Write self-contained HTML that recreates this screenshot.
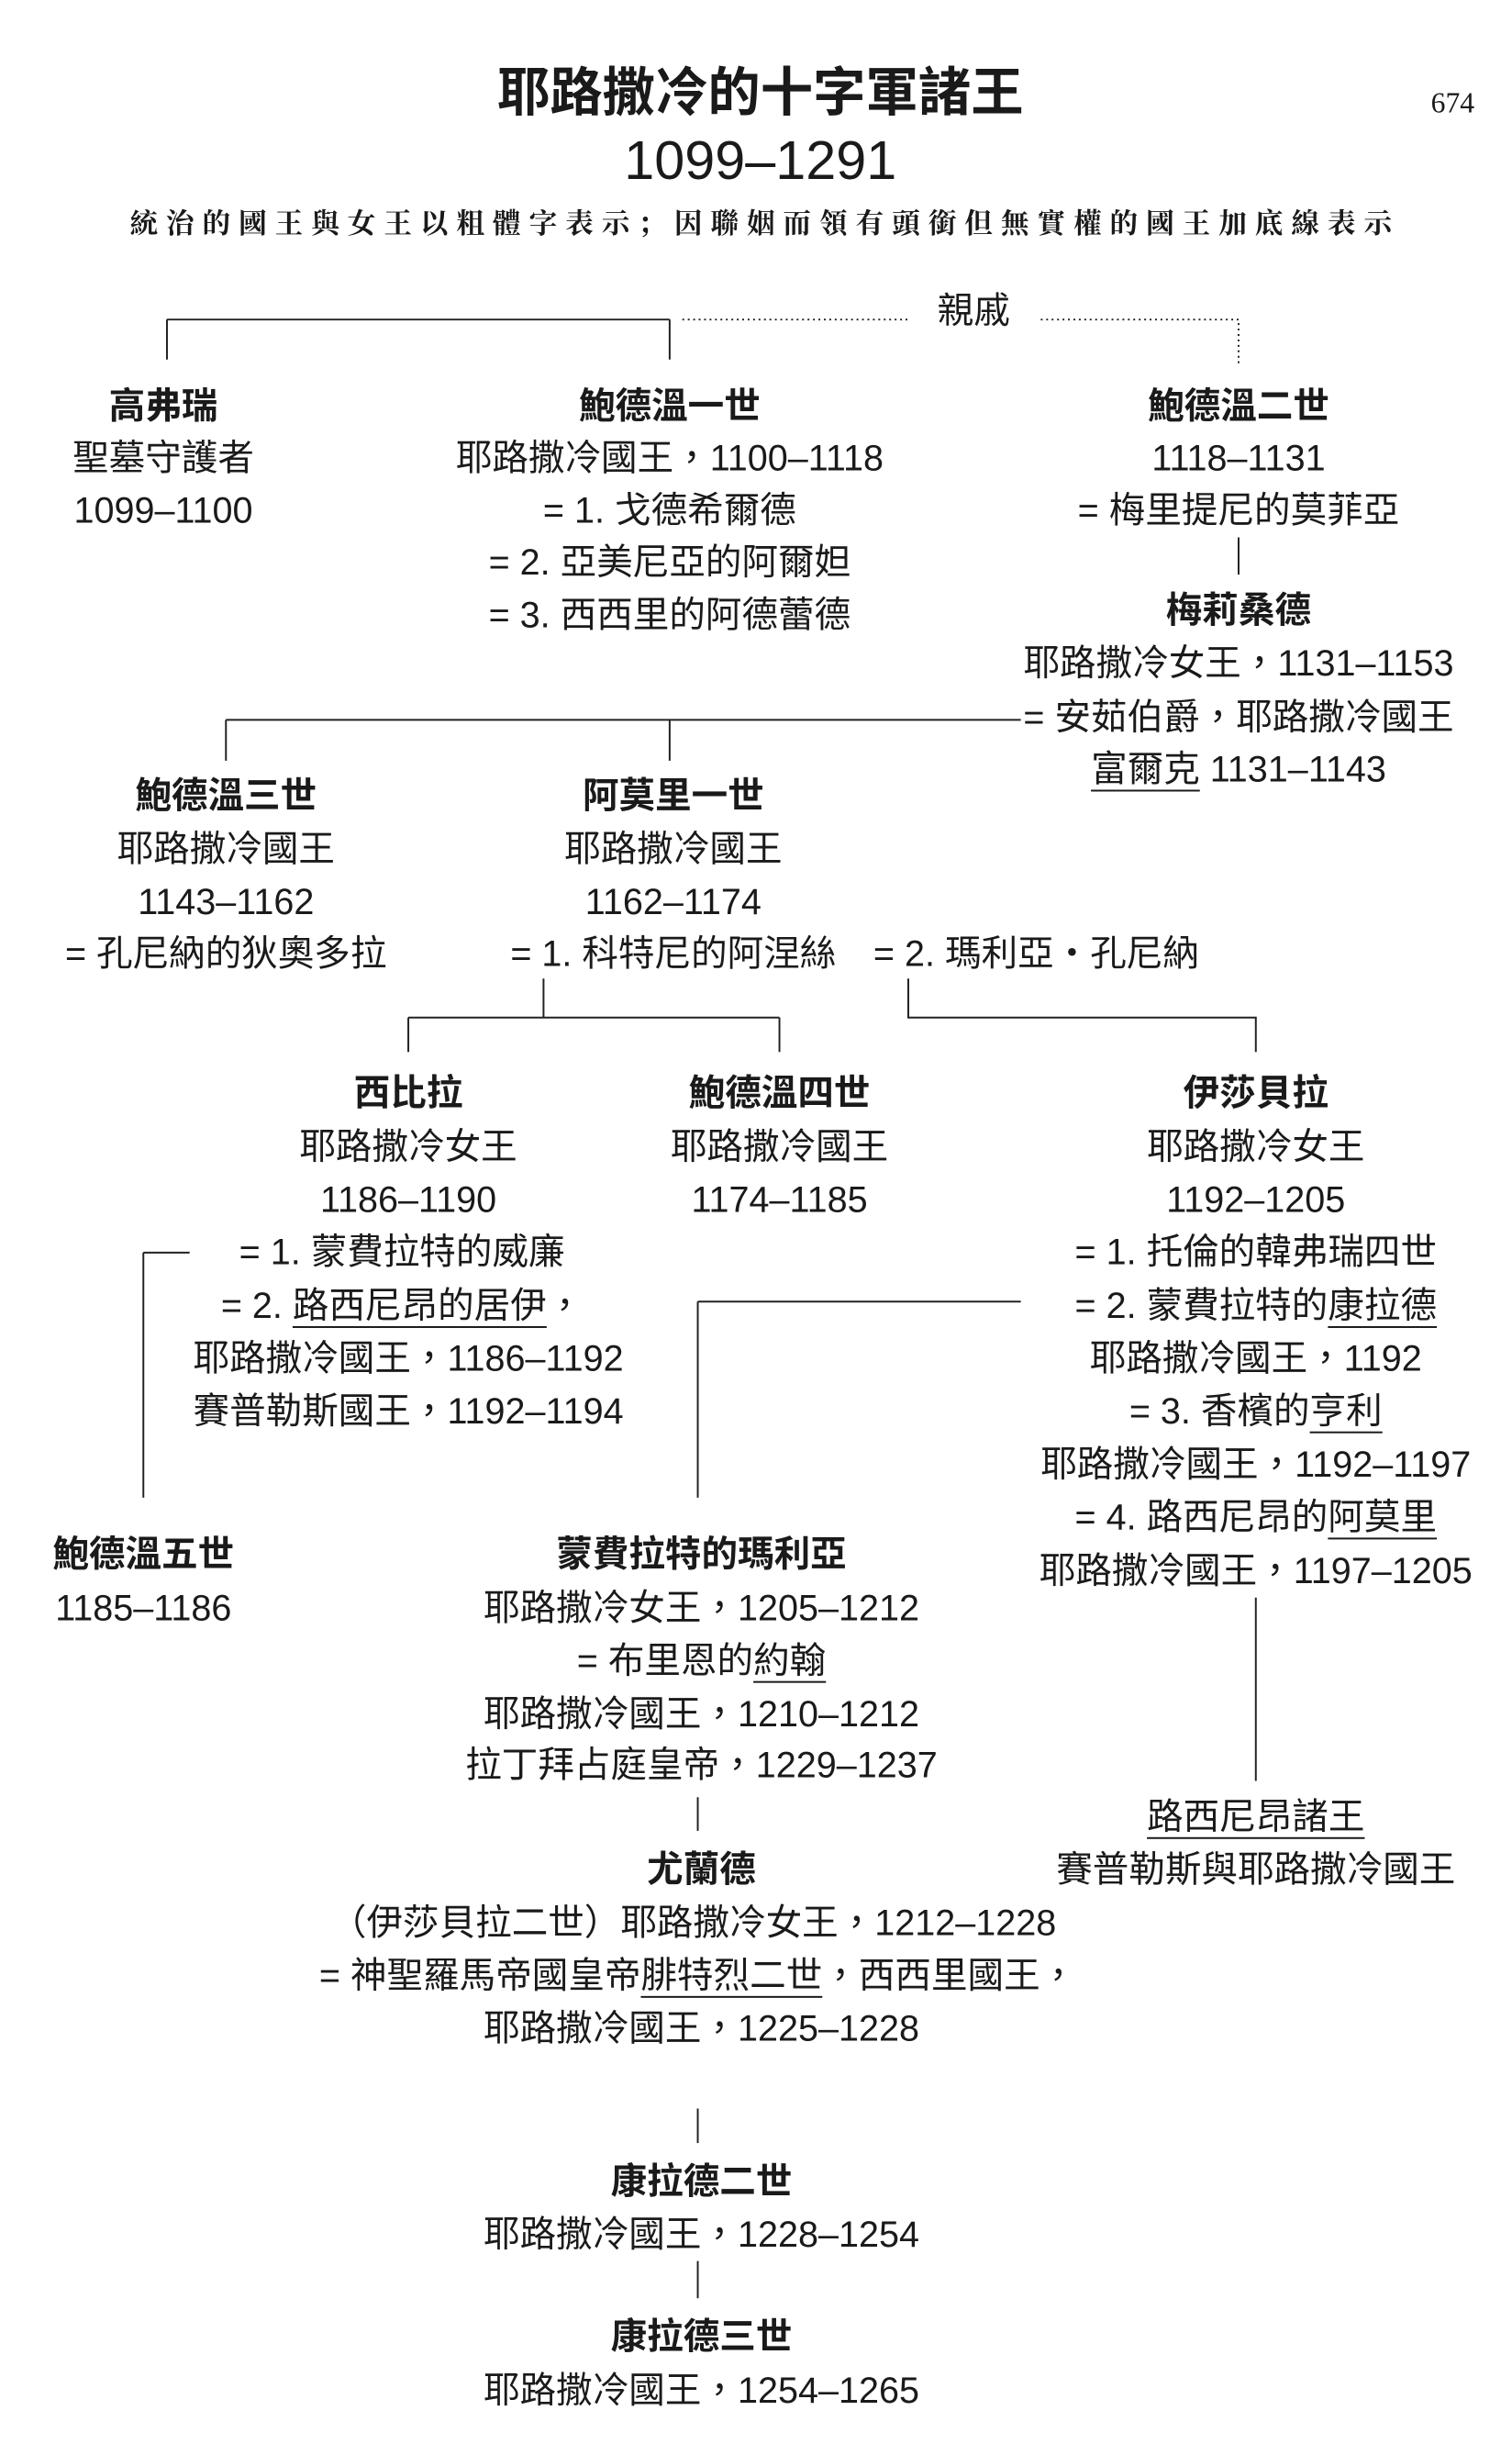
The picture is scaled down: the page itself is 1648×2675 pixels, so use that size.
<!DOCTYPE html>
<html><head><meta charset="utf-8">
<style>
html,body{margin:0;padding:0;background:#fff;}
body{width:1648px;height:2660px;position:relative;overflow:hidden;color:#1a1a1a;font-family:"Liberation Sans","Noto Sans CJK TC",sans-serif;}
#w{position:absolute;left:0;top:5px;width:1680px;height:2700px;transform:scale(0.989);transform-origin:0 0;}
.t{position:absolute;width:1200px;margin-left:-600px;text-align:center;font-size:40px;line-height:58px;height:58px;margin-top:-29px;white-space:nowrap;}
.b{font-weight:bold;}
u{text-decoration:underline;text-decoration-thickness:2px;text-underline-offset:9px;}
svg{position:absolute;left:0;top:0;}
</style></head><body><div id="w">
<svg width="1680" height="2700" viewBox="0 0 1680 2700">
<g stroke="#222" stroke-width="2" fill="none">
<path d="M184 347H738M184 347V391M738 347V391"/>
<path d="M752 347H1004M1147 347H1365V395" stroke-dasharray="2 4"/>
<path d="M1365 587V628"/>
<path d="M249 788H1125M249 788V833M738 788V833"/>
<path d="M599 1073V1116M450 1116H859M450 1116V1154M859 1116V1154"/>
<path d="M1001 1073V1116H1384V1154"/>
<path d="M158 1375H209M158 1375V1645"/>
<path d="M769 1429H1125M769 1429V1645"/>
<path d="M1384 1755V1957"/>
<path d="M769 1975V2012"/>
<path d="M769 2318V2356"/>
<path d="M769 2486V2527"/>
</g>
</svg>

<div class="t b" style="left:838px;top:98px;font-size:58px;height:70px;line-height:70px;margin-top:-35px;">耶路撒冷的十字軍諸王</div>
<div class="t" style="left:838px;top:172px;font-size:60px;height:70px;line-height:70px;margin-top:-35px;">1099–1291</div>
<div class="t" style="left:1601px;top:108px;font-size:32px;font-family:'Liberation Serif',serif;">674</div>
<div class="t" style="left:843px;top:242px;width:1600px;margin-left:-800px;font-size:31px;letter-spacing:9px;font-weight:bold;font-family:'Liberation Serif','Noto Serif CJK SC',serif;">統治的國王與女王以粗體字表示；因聯姻而領有頭銜但無實權的國王加底線表示</div>

<div class="t" style="left:1073px;top:338px;">親戚</div>

<div class="t b" style="left:180px;top:443px;">高弗瑞</div>
<div class="t" style="left:180px;top:500px;">聖墓守護者</div>
<div class="t" style="left:180px;top:558px;">1099–1100</div>

<div class="t b" style="left:738px;top:443px;">鮑德溫一世</div>
<div class="t" style="left:738px;top:500px;">耶路撒冷國王，1100–1118</div>
<div class="t" style="left:738px;top:558px;">= 1. 戈德希爾德</div>
<div class="t" style="left:738px;top:615px;">= 2. 亞美尼亞的阿爾妲</div>
<div class="t" style="left:738px;top:673px;">= 3. 西西里的阿德蕾德</div>

<div class="t b" style="left:1365px;top:443px;">鮑德溫二世</div>
<div class="t" style="left:1365px;top:500px;">1118–1131</div>
<div class="t" style="left:1365px;top:558px;">= 梅里提尼的莫菲亞</div>
<div class="t b" style="left:1365px;top:668px;">梅莉桑德</div>
<div class="t" style="left:1365px;top:726px;">耶路撒冷女王，1131–1153</div>
<div class="t" style="left:1365px;top:786px;">= 安茹伯爵，耶路撒冷國王</div>
<div class="t" style="left:1365px;top:843px;"><u>富爾克</u> 1131–1143</div>

<div class="t b" style="left:249px;top:872px;">鮑德溫三世</div>
<div class="t" style="left:249px;top:931px;">耶路撒冷國王</div>
<div class="t" style="left:249px;top:989px;">1143–1162</div>
<div class="t" style="left:249px;top:1046px;">= 孔尼納的狄奧多拉</div>

<div class="t b" style="left:742px;top:872px;">阿莫里一世</div>
<div class="t" style="left:742px;top:931px;">耶路撒冷國王</div>
<div class="t" style="left:742px;top:989px;">1162–1174</div>
<div class="t" style="left:742px;top:1046px;">= 1. 科特尼的阿涅絲</div>
<div class="t" style="left:1142px;top:1046px;">= 2. 瑪利亞・孔尼納</div>

<div class="t b" style="left:450px;top:1200px;">西比拉</div>
<div class="t" style="left:450px;top:1259px;">耶路撒冷女王</div>
<div class="t" style="left:450px;top:1317px;">1186–1190</div>
<div class="t" style="left:443px;top:1375px;">= 1. 蒙費拉特的威廉</div>
<div class="t" style="left:443px;top:1434px;">= 2. <u>路西尼昂的居伊</u>，</div>
<div class="t" style="left:450px;top:1492px;">耶路撒冷國王，1186–1192</div>
<div class="t" style="left:450px;top:1550px;">賽普勒斯國王，1192–1194</div>

<div class="t b" style="left:859px;top:1200px;">鮑德溫四世</div>
<div class="t" style="left:859px;top:1259px;">耶路撒冷國王</div>
<div class="t" style="left:859px;top:1317px;">1174–1185</div>

<div class="t b" style="left:1384px;top:1200px;">伊莎貝拉</div>
<div class="t" style="left:1384px;top:1259px;">耶路撒冷女王</div>
<div class="t" style="left:1384px;top:1317px;">1192–1205</div>
<div class="t" style="left:1384px;top:1375px;">= 1. 托倫的韓弗瑞四世</div>
<div class="t" style="left:1384px;top:1434px;">= 2. 蒙費拉特的<u>康拉德</u></div>
<div class="t" style="left:1384px;top:1492px;">耶路撒冷國王，1192</div>
<div class="t" style="left:1384px;top:1550px;">= 3. 香檳的<u>亨利</u></div>
<div class="t" style="left:1384px;top:1609px;">耶路撒冷國王，1192–1197</div>
<div class="t" style="left:1384px;top:1667px;">= 4. 路西尼昂的<u>阿莫里</u></div>
<div class="t" style="left:1384px;top:1726px;">耶路撒冷國王，1197–1205</div>

<div class="t b" style="left:158px;top:1708px;">鮑德溫五世</div>
<div class="t" style="left:158px;top:1767px;">1185–1186</div>

<div class="t b" style="left:773px;top:1708px;">蒙費拉特的瑪利亞</div>
<div class="t" style="left:773px;top:1767px;">耶路撒冷女王，1205–1212</div>
<div class="t" style="left:773px;top:1825px;">= 布里恩的<u>約翰</u></div>
<div class="t" style="left:773px;top:1884px;">耶路撒冷國王，1210–1212</div>
<div class="t" style="left:773px;top:1940px;">拉丁拜占庭皇帝，1229–1237</div>

<div class="t" style="left:1384px;top:1997px;"><u>路西尼昂諸王</u></div>
<div class="t" style="left:1384px;top:2055px;">賽普勒斯與耶路撒冷國王</div>

<div class="t b" style="left:773px;top:2055px;">尤蘭德</div>
<div class="t" style="left:764px;top:2114px;">（伊莎貝拉二世）耶路撒冷女王，1212–1228</div>
<div class="t" style="left:769px;top:2172px;">= 神聖羅馬帝國皇帝<u>腓特烈二世</u>，西西里國王，</div>
<div class="t" style="left:773px;top:2230px;">耶路撒冷國王，1225–1228</div>

<div class="t b" style="left:773px;top:2399px;">康拉德二世</div>
<div class="t" style="left:773px;top:2457px;">耶路撒冷國王，1228–1254</div>
<div class="t b" style="left:773px;top:2570px;">康拉德三世</div>
<div class="t" style="left:773px;top:2629px;">耶路撒冷國王，1254–1265</div>
</div></body></html>
